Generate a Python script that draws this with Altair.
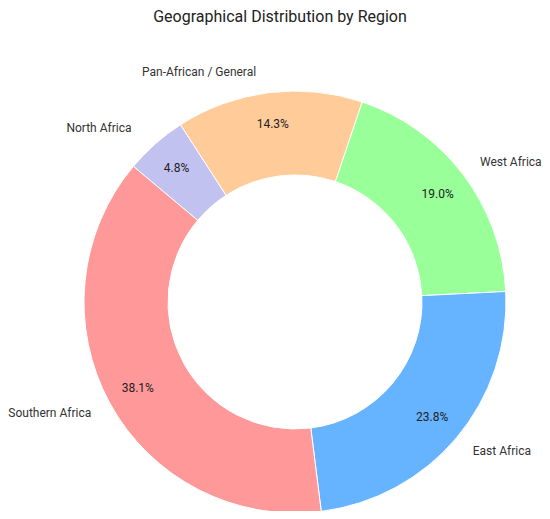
import math
import altair as alt
import pandas as pd

regions = ["North Africa", "Pan-African / General", "West Africa", "East Africa", "Southern Africa"]
counts = [1, 3, 4, 5, 8]
colors = ["#c2c2f0", "#ffcc99", "#99ff99", "#66b3ff", "#ff9999"]
sides = ["left", "left", "right", "right", "left"]

total = sum(counts)
df = pd.DataFrame({
    "region": regions,
    "value": counts,
    "ord": list(range(len(regions))),
    "pct": [f"{100 * c / total:.1f}%" for c in counts],
    "side": sides,
})

start = math.radians(310)
theta_scale = alt.Scale(domain=[0, total], range=[start, start + 2 * math.pi], zero=True, nice=False)
CX, CY = 287, 254
R_OUT, R_IN = 211, 127
FONT = "Roboto"
LFS = 12

base = alt.Chart(df).transform_window(
    s_end="sum(value)", sort=[alt.SortField("ord")], frame=[None, 0]
).transform_calculate(
    s_start="datum.s_end - datum.value",
    mid="datum.s_end - datum.value / 2",
).encode(x=alt.value(CX), y=alt.value(CY))

arcs = base.mark_arc(outerRadius=R_OUT, innerRadius=R_IN, stroke="white", strokeWidth=1).encode(
    theta=alt.Theta("s_start:Q", scale=theta_scale),
    theta2="s_end:Q",
    color=alt.Color("region:N", scale=alt.Scale(domain=regions, range=colors), legend=None),
)

mid_theta = alt.Theta("mid:Q", scale=theta_scale)

pct = base.mark_text(radius=179, fontSize=12, font=FONT, color="#222222").encode(
    theta=mid_theta, text="pct:N"
)

lab_right = base.mark_text(radius=232, fontSize=LFS, font=FONT, color="#333333", align="left").encode(
    theta=mid_theta, text="region:N"
).transform_filter(alt.datum.side == "right")

lab_left_low = base.mark_text(radius=232, fontSize=LFS, font=FONT, color="#333333", align="right").encode(
    theta=mid_theta, text="region:N"
).transform_filter(alt.datum.region == "Southern Africa")

lab_left_up = base.mark_text(radius=232, fontSize=LFS, font=FONT, color="#333333", align="right", dx=-10).encode(
    theta=mid_theta, text="region:N"
).transform_filter((alt.datum.side == "left") & (alt.datum.region != "Southern Africa"))

chart = alt.layer(arcs, pct, lab_right, lab_left_low, lab_left_up).properties(
    width=534,
    height=463,
    autosize=alt.AutoSizeParams(type="none"),
    padding={"left": 0, "top": 40, "right": 0, "bottom": 0},
    title=alt.TitleParams(
        "Geographical Distribution by Region",
        fontSize=16,
        font=FONT,
        fontWeight="normal",
        color="#222222",
        anchor="middle",
        frame="group",
        offset=23,
        dx=5,
    ),
).configure_view(stroke=None)

chart.save("out.html", embed_options={"renderer": "svg", "actions": False})
